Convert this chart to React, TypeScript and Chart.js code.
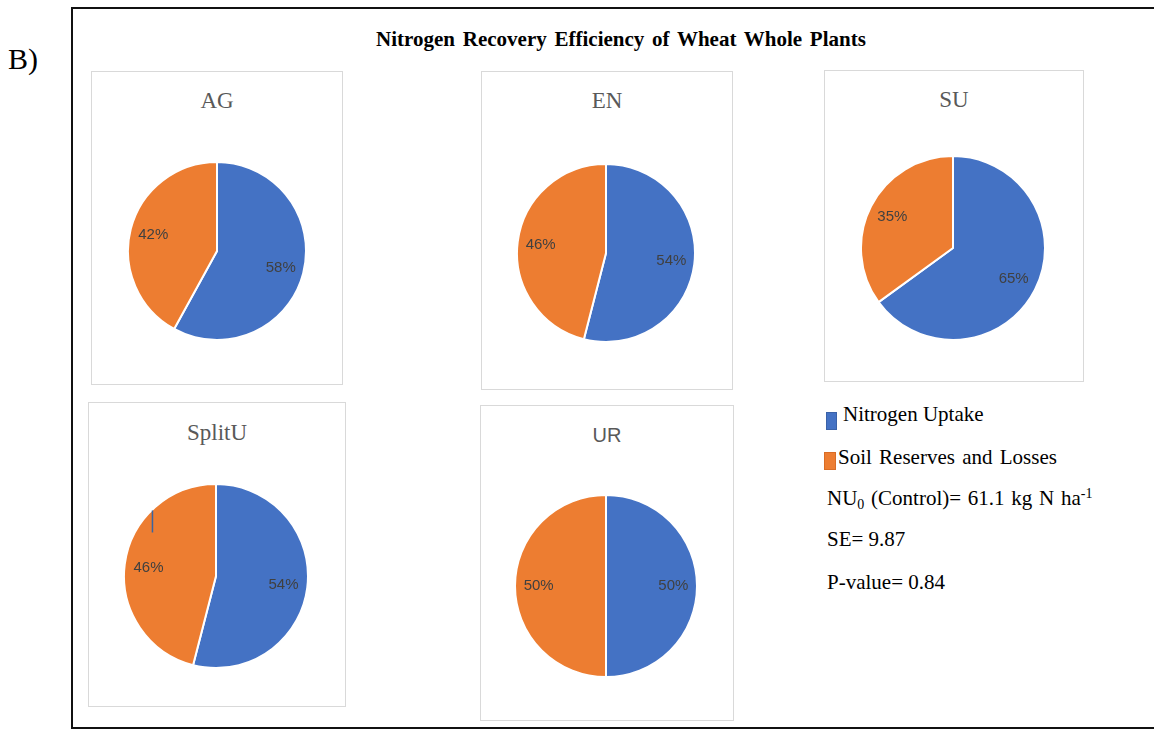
import React, { useEffect, useRef } from "react";
import { Chart, registerables } from "chart.js";

Chart.register(...registerables);

// ---- data ----
const figureTag = "B)";
const figureTitle = "Nitrogen Recovery Efficiency of Wheat Whole Plants";
const treatments = ["AG", "EN", "SU", "SplitU", "UR"];
const nitrogenUptake = [58, 54, 65, 54, 50];
const soilReservesAndLosses = [42, 46, 35, 46, 50];
const seriesNames = ["Nitrogen Uptake", "Soil Reserves and Losses"];
const controlUptake = "61.1";
const standardError = "9.87";
const pValue = "0.84";

// ---- styling / layout ----
const seriesColors = ["#4472C4", "#ED7D31"];
const SERIF = "'Liberation Serif', 'Times New Roman', serif";
const SANS = "'Liberation Sans', Arial, sans-serif";
const LABEL_FONT = `15px ${SANS}`;

// box: [left, top, width, height], pie: [centerX, centerY, radius]
const panelLayout = [
  { box: [91, 71, 252, 314], titleY: 100, pie: [217, 251, 89], titleFont: SERIF, leader: -1 },
  { box: [481, 71, 252, 319], titleY: 100, pie: [606, 253, 89], titleFont: SERIF, leader: -1 },
  { box: [824, 70, 260, 312], titleY: 99, pie: [953, 248, 92], titleFont: SERIF, leader: -1 },
  { box: [88, 402, 258, 305], titleY: 432, pie: [216, 576, 92], titleFont: SERIF, leader: 1 },
  { box: [480, 405, 254, 316], titleY: 435, pie: [606, 586, 91], titleFont: SANS, leader: -1 },
];

// Draws "NN%" inside each slice, plus an optional short leader tick above one label
const sliceLabels = {
  id: "sliceLabels",
  afterDatasetsDraw(chart: any, _args: any, opts: any) {
    const { ctx } = chart;
    const meta = chart.getDatasetMeta(0);
    const values = chart.data.datasets[0].data as number[];
    ctx.save();
    ctx.font = LABEL_FONT;
    ctx.fillStyle = "#404040";
    ctx.textAlign = "center";
    ctx.textBaseline = "middle";
    meta.data.forEach((arc: any, i: number) => {
      const p = arc.getProps(["x", "y", "startAngle", "endAngle", "outerRadius"], true);
      const mid = (p.startAngle + p.endAngle) / 2;
      const lx = p.x + Math.cos(mid) * p.outerRadius * 0.74;
      const ly = p.y + Math.sin(mid) * p.outerRadius * 0.74;
      ctx.fillText(`${values[i]}%`, lx, ly);
      if (opts && opts.leader === i) {
        ctx.strokeStyle = "#3a64a0";
        ctx.lineWidth = 1.5;
        ctx.beginPath();
        ctx.moveTo(lx + 4, ly - 57);
        ctx.lineTo(lx + 4, ly - 35);
        ctx.stroke();
      }
    });
    ctx.restore();
  },
};

function PiePanel({ index }: { index: number }) {
  const ref = useRef<HTMLCanvasElement>(null);
  const layout = panelLayout[index];
  const [cx, cy, r] = layout.pie;
  const size = 2 * r + 2;

  useEffect(() => {
    if (!ref.current) return;
    const chart = new Chart(ref.current, {
      type: "pie",
      data: {
        labels: seriesNames,
        datasets: [
          {
            data: [nitrogenUptake[index], soilReservesAndLosses[index]],
            backgroundColor: seriesColors,
            borderColor: "#ffffff",
            borderWidth: 2,
          },
        ],
      },
      options: {
        responsive: false,
        animation: false,
        events: [],
        layout: { padding: 0 },
        plugins: {
          legend: { display: false },
          tooltip: { enabled: false },
          sliceLabels: { leader: layout.leader },
        } as any,
      },
      plugins: [sliceLabels],
    });
    return () => chart.destroy();
  }, [index]);

  const [bl, bt, bw, bh] = layout.box;
  const titleSize = layout.titleFont === SANS ? 20 : 23;
  return (
    <>
      <div
        style={{
          position: "absolute",
          left: bl,
          top: bt,
          width: bw,
          height: bh,
          boxSizing: "border-box",
          border: "1px solid #d9d9d9",
          background: "#fff",
        }}
      />
      <div
        style={{
          position: "absolute",
          left: bl,
          width: bw,
          top: layout.titleY - titleSize / 2,
          textAlign: "center",
          fontFamily: layout.titleFont,
          fontSize: titleSize,
          lineHeight: `${titleSize}px`,
          color: "#595959",
        }}
      >
        {treatments[index]}
      </div>
      <canvas
        ref={ref}
        width={size}
        height={size}
        style={{ position: "absolute", left: cx - r - 1, top: cy - r - 1, width: size, height: size }}
      />
    </>
  );
}

function TextLine({ x, cy, children, size = 21, wordSpacing = 0 }: any) {
  return (
    <div
      style={{
        position: "absolute",
        left: x,
        top: cy - size / 2,
        fontFamily: SERIF,
        fontSize: size,
        lineHeight: `${size}px`,
        color: "#000",
        whiteSpace: "nowrap",
        wordSpacing,
      }}
    >
      {children}
    </div>
  );
}

export default function App() {
  return (
    <div
      style={{
        position: "absolute",
        left: 0,
        top: 0,
        width: 1154,
        height: 734,
        overflow: "hidden",
        background: "#fff",
        fontFamily: SERIF,
      }}
    >
      {/* figure frame, its right side runs past the page edge */}
      <div
        style={{
          position: "absolute",
          left: 71,
          top: 7,
          width: 1120,
          height: 722,
          boxSizing: "border-box",
          border: "2px solid #111",
        }}
      />
      <TextLine x={8} cy={59} size={30}>
        {figureTag}
      </TextLine>
      <div
        style={{
          position: "absolute",
          left: 221,
          width: 800,
          top: 39 - 10.5,
          textAlign: "center",
          fontFamily: SERIF,
          fontWeight: "bold",
          fontSize: 21,
          lineHeight: "21px",
          wordSpacing: 2.5,
          color: "#000",
          whiteSpace: "nowrap",
        }}
      >
        {figureTitle}
      </div>

      {treatments.map((_, i) => (
        <PiePanel key={i} index={i} />
      ))}

      {/* legend */}
      <div style={{ position: "absolute", left: 826, top: 412, width: 11, height: 18, background: seriesColors[0], boxSizing: "border-box", border: "1px solid #3a62a8" }} />
      <div style={{ position: "absolute", left: 824, top: 452, width: 12, height: 18, background: seriesColors[1], boxSizing: "border-box", border: "1px solid #d96c25" }} />
      <TextLine x={843} cy={414}>
        {seriesNames[0]}
      </TextLine>
      <TextLine x={838} cy={457} wordSpacing={2}>
        {seriesNames[1]}
      </TextLine>
      <TextLine x={827} cy={498} wordSpacing={1.5}>
        NU<span style={{ fontSize: 14, position: "relative", top: 4 }}>0</span> (Control)= {controlUptake} kg N ha
        <span style={{ fontSize: 14, position: "relative", top: -7 }}>-1</span>
      </TextLine>
      <TextLine x={827} cy={539}>
        SE= {standardError}
      </TextLine>
      <TextLine x={827} cy={582}>
        P-value= {pValue}
      </TextLine>
    </div>
  );
}
